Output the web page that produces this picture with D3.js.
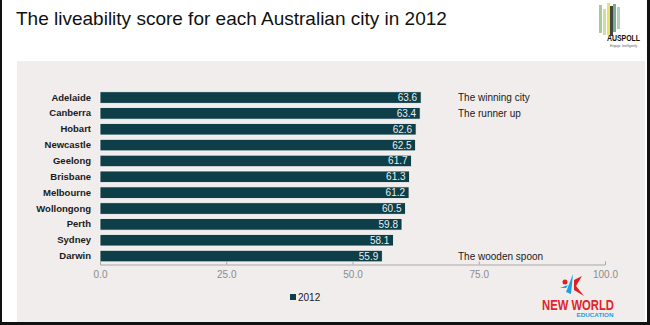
<!DOCTYPE html>
<html>
<head>
<meta charset="utf-8">
<script src="https://cdn.jsdelivr.net/npm/d3@7"></script>
<style>
  html, body { margin: 0; padding: 0; background: #fff; }
  svg { display: block; font-family: "Liberation Sans", Arial, sans-serif; }
</style>
</head>
<body>
<svg id="chart" width="650" height="325"></svg>
<script>
// Liveability scores, 2012
const cities = ["Adelaide", "Canberra", "Hobart", "Newcastle", "Geelong", "Brisbane",
                "Melbourne", "Wollongong", "Perth", "Sydney", "Darwin"];
const scores = [63.6, 63.4, 62.6, 62.5, 61.7, 61.3, 61.2, 60.5, 59.8, 58.1, 55.9];
const tickValues = [0, 25, 50, 75, 100];
const notes = [
  { city: "Adelaide", text: "The winning city" },
  { city: "Canberra", text: "The runner up" },
  { city: "Darwin", text: "The wooden spoon" }
];
const seriesName = "2012";

const svg = d3.select("#chart");
const W = 650, H = 325;
const barColor = "#0e3f48";

// slide frame and panel
svg.append("rect").attr("x", 0).attr("y", 0).attr("width", W).attr("height", H).attr("fill", "#fff");
svg.append("rect").attr("x", 17).attr("y", 61).attr("width", 628).attr("height", 262).attr("fill", "#f0edec");
svg.append("rect").attr("x", 0).attr("y", 0).attr("width", 2).attr("height", H).attr("fill", "#111");
svg.append("rect").attr("x", 647).attr("y", 0).attr("width", 3).attr("height", H).attr("fill", "#111");
svg.append("rect").attr("x", 0).attr("y", 322).attr("width", W).attr("height", 3).attr("fill", "#111");

// title
svg.append("text").attr("x", 16).attr("y", 25)
  .attr("font-size", 19).attr("fill", "#111")
  .text("The liveability score for each Australian city in 2012");

// scales
const x = d3.scaleLinear().domain([0, 100]).range([100, 605]);
const y = d3.scaleBand().domain(cities).range([89.6, 264]).paddingInner(0.27).paddingOuter(0.135);

// bars
const rows = cities.map((c, i) => ({ city: c, value: scores[i] }));
svg.append("g").selectAll("rect").data(rows).join("rect")
  .attr("x", x(0))
  .attr("y", d => y(d.city))
  .attr("width", d => x(d.value) - x(0))
  .attr("height", y.bandwidth())
  .attr("fill", barColor)
  .attr("stroke", "#fbfbfb")
  .attr("stroke-width", 0.8);

// value labels inside bar ends
svg.append("g").selectAll("text").data(rows).join("text")
  .attr("x", d => x(d.value) - 4)
  .attr("y", d => y(d.city) + y.bandwidth() / 2)
  .attr("dy", "0.35em")
  .attr("text-anchor", "end")
  .attr("font-size", 10)
  .attr("fill", "#e8eef0")
  .text(d => d.value.toFixed(1));

// category labels
const yAxis = svg.append("g").attr("transform", `translate(${x(0)},0)`)
  .call(d3.axisLeft(y).tickSize(0).tickPadding(9));
yAxis.select(".domain").remove();
yAxis.selectAll("text").attr("font-size", 9.5).attr("fill", "#1a1a1a")
  .attr("font-family", "Liberation Sans, Arial, sans-serif").attr("font-weight", "bold");

// x axis
const xAxis = svg.append("g").attr("transform", `translate(0,264.5)`)
  .call(d3.axisBottom(x).tickValues(tickValues).tickFormat(d3.format(".1f")).tickSizeInner(-3).tickSizeOuter(-3).tickPadding(6));
xAxis.select(".domain").attr("stroke", "#a8a8a8");
xAxis.selectAll(".tick line").attr("stroke", "#a8a8a8");
xAxis.selectAll("text").attr("font-size", 10).attr("fill", "#8c8c8c")
  .attr("font-family", "Liberation Sans, Arial, sans-serif");

// annotations
svg.append("g").selectAll("text").data(notes).join("text")
  .attr("x", 458)
  .attr("y", d => y(d.city) + y.bandwidth() / 2)
  .attr("dy", "0.35em")
  .attr("font-size", 10)
  .attr("fill", "#1a1a1a")
  .text(d => d.text);

// legend
const lg = svg.append("g").attr("transform", "translate(290,297)");
lg.append("rect").attr("x", 0).attr("y", -3).attr("width", 6).attr("height", 6).attr("fill", barColor);
lg.append("text").attr("x", 8).attr("dy", "0.35em").attr("font-size", 10).attr("fill", "#1a1a1a").text(seriesName);

// AUSPOLL mark (top right)
const ap = svg.append("g").attr("transform", "translate(599,3)");
const strips = [
  { x: 0, y: 2, h: 28, c: "#9bbf8a" },
  { x: 4, y: 6, h: 26, c: "#c8d88c" },
  { x: 8, y: 0, h: 32, c: "#e0e04a" },
  { x: 11, y: 3, h: 30, c: "#222" },
  { x: 14, y: 1, h: 28, c: "#5aa07a" },
  { x: 18, y: 4, h: 22, c: "#a8c8b0" }
];
ap.selectAll("rect").data(strips).join("rect")
  .attr("x", d => d.x).attr("y", d => d.y).attr("width", 3).attr("height", d => d.h)
  .attr("fill", d => d.c).attr("opacity", 0.85);
ap.append("text").attr("x", 8).attr("y", 38).attr("font-size", 9).attr("font-weight", "bold")
  .attr("fill", "#111").attr("textLength", 33).attr("lengthAdjust", "spacingAndGlyphs").text("AUSPOLL");
ap.append("text").attr("x", 11).attr("y", 44).attr("font-size", 3).attr("fill", "#555").text("Engage. Intelligently.");

// New World Education mark (bottom right)
const nw = svg.append("g").attr("transform", "translate(538,270)");
nw.append("path").attr("d", "M28,22 L35,4 L33,24 Z").attr("fill", "#1aa0e0");
nw.append("path").attr("d", "M36,10 L44,6 L38,16 L46,26 L36,20 Z").attr("fill", "#e02020");
nw.append("circle").attr("cx", 27).attr("cy", 12).attr("r", 2.5).attr("fill", "#e02020");
nw.append("path").attr("d", "M22,18 L30,15 L28,18 Z").attr("fill", "#1aa0e0");
nw.append("text").attr("x", 40).attr("y", 40).attr("text-anchor", "middle")
  .attr("font-size", 14).attr("font-weight", "bold").attr("fill", "#e0242a")
  .attr("textLength", 72).attr("lengthAdjust", "spacingAndGlyphs").text("NEW WORLD");
nw.append("text").attr("x", 57).attr("y", 46.5).attr("text-anchor", "middle")
  .attr("font-size", 5).attr("font-weight", "bold").attr("fill", "#1aa0e0")
  .attr("textLength", 37).attr("lengthAdjust", "spacingAndGlyphs").text("EDUCATION");
</script>
</body>
</html>
